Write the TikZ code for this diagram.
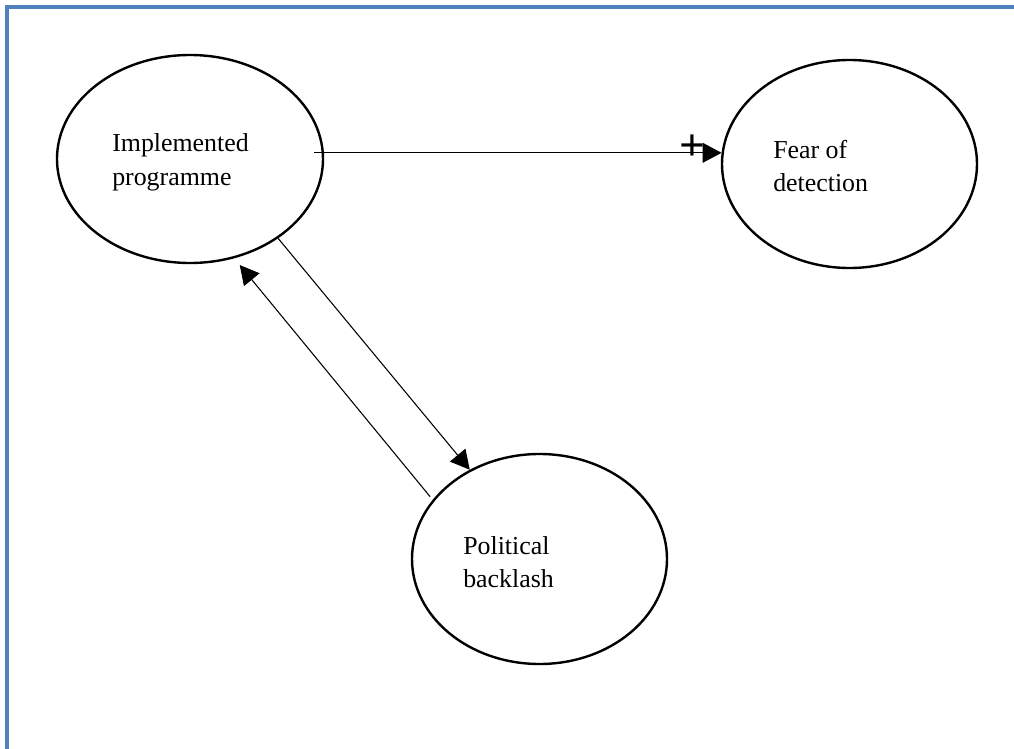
\documentclass[tikz,border=0pt]{standalone}
\usepackage{fontspec}
\setmainfont{Liberation Serif}
\usetikzlibrary{shapes.geometric,arrows.meta}

\begin{document}
\begin{tikzpicture}[x=0.75pt,y=-0.75pt]
        % Colors
        \definecolor{framecolor}{RGB}{79,129,189}
        % Styles
        \tikzstyle{loop ellipse}=[draw,ellipse,line width=1.8pt,inner sep=0pt]
        \tikzstyle{loop text}=[anchor=base west,align=left,inner sep=0pt,font=\fontsize{19.4}{24.75}\selectfont]
        \tikzstyle{link}=[line width=0.8pt,-{Triangle[length=14.25pt,width=15pt]}]
        \tikzstyle{sign}=[inner sep=0pt,anchor=base,font=\bfseries\fontsize{34}{34}\selectfont]
        %The frame
        \useasboundingbox (0,0) rectangle (1014,749);
        \draw[framecolor,line width=2.4pt] (7,749) -- (7,7) -- (1014,7);
        %The ellipses
        \node[loop ellipse,minimum width=199.5pt,minimum height=156pt] (prog) at (190,159) {};
        \node[loop ellipse,minimum width=191.25pt,minimum height=156pt] (fear) at (849.5,164) {};
        \node[loop ellipse,minimum width=191.25pt,minimum height=157.5pt] (back) at (539.5,559) {};
        \node[loop text] (prog text) at (112,185) {Implemented\\programme};
        \node[loop text] (fear text) at (773,191) {Fear of\\detection};
        \node[loop text] (back text) at (463,587) {Political\\backlash};
        %The links
        \coordinate (prog out) at ([xshift=-7.5pt]prog.east);
        \draw[link] (prog out |- fear.175) -- node[sign,pos=0.928,yshift=-6pt] (plus) {+} (fear.175);
        \draw[link] (prog.-42) -- (back.128);
        \draw[link,shorten <=3pt,shorten >=6.5pt] (back.151) -- (prog.-66);
    \end{tikzpicture}
\end{document}
